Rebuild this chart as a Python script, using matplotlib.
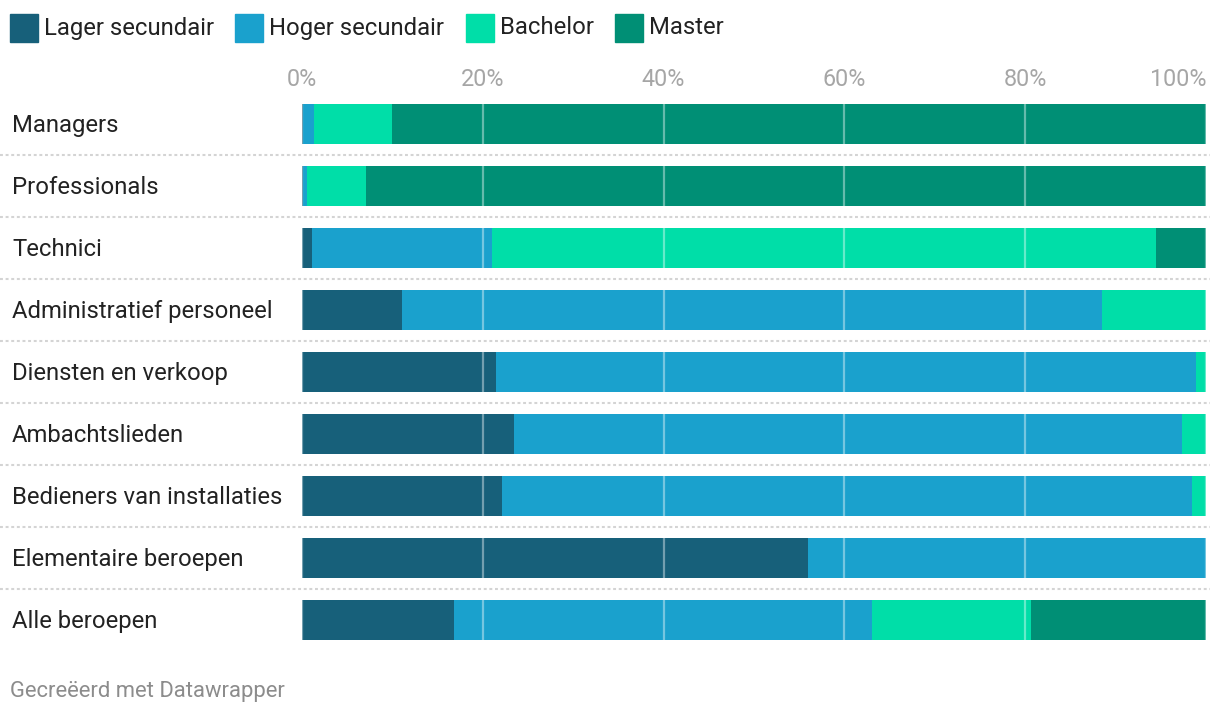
import numpy as np
import matplotlib
matplotlib.use("Agg")
import matplotlib.pyplot as plt
from matplotlib.patches import Rectangle
from matplotlib.lines import Line2D
import matplotlib.transforms as mtransforms

plt.rcParams['font.family'] = ['Roboto', 'DejaVu Sans']

categories = ["Managers", "Professionals", "Technici", "Administratief personeel",
              "Diensten en verkoop", "Ambachtslieden", "Bedieners van installaties",
              "Elementaire beroepen", "Alle beroepen"]
series_names = ["Lager secundair", "Hoger secundair", "Bachelor", "Master"]
lager = [0.1, 0.1, 1.1, 11.1, 21.5, 23.5, 22.1, 56.0, 16.8]
hoger = [1.2, 0.4, 19.9, 77.4, 77.4, 73.9, 76.4, 44.0, 46.3]
bachelor = [8.7, 6.6, 73.5, 11.5, 1.1, 2.6, 1.5, 0.0, 17.5]
master = [90.0, 92.9, 5.5, 0.0, 0.0, 0.0, 0.0, 0.0, 19.4]
colors = ["#17607a", "#1aa1cd", "#00dea8", "#008f75"]
ticks = [0, 20, 40, 60, 80, 100]

W, H = 1220, 718
fig = plt.figure(figsize=(W / 100, H / 100), dpi=100)
ax = fig.add_axes([302 / W, 1 - 651 / H, 904 / W, 558 / H])

y = np.arange(len(categories))
left = np.zeros(len(categories))
for vals, col in zip([lager, hoger, bachelor, master], colors):
    ax.barh(y, vals, left=left, height=40 / 62, color=col, zorder=1)
    left += np.array(vals)

for t in ticks:
    ax.axvline(t, color="white", alpha=0.4, lw=1.6, zorder=2, clip_on=False)

ax.set_xlim(0, 100)
ax.set_ylim(len(categories) - 0.5, -0.5)
ax.set_yticks([])
ax.set_xticks(ticks)
ax.set_xticklabels([f"{t}%" for t in ticks])
ax.xaxis.tick_top()
ax.tick_params(axis="x", length=0, pad=1.5, labelsize=16.8, labelcolor="#a6a6a6")
ax.get_xticklabels()[-1].set_horizontalalignment("right")
for s in ax.spines.values():
    s.set_visible(False)

# row labels and dotted separators
trans = mtransforms.blended_transform_factory(fig.transFigure, ax.transData)
for i, name in enumerate(categories):
    ax.text(12 / W, i + 0.02, name, transform=trans, ha="left", va="center",
            fontsize=17.2, color="#222222")
for i in range(len(categories) - 1):
    ln = Line2D([0, 1210 / W], [i + 0.5, i + 0.5], transform=trans,
                color="#d4d4d4", lw=1.5, dashes=(1.4, 1.3))
    ln.set_clip_on(False)
    fig.add_artist(ln)

# legend
leg_x = [10, 235, 466, 615]
for lx, name, col in zip(leg_x, series_names, colors):
    fig.add_artist(Rectangle((lx / W, 1 - 42 / H), 28 / W, 28 / H,
                             transform=fig.transFigure, color=col))
    fig.text((lx + 34) / W, 1 - 28 / H, name, ha="left", va="center",
             fontsize=17.2, color="#222222")

fig.text(10 / W, 1 - 692 / H, "Gecreëerd met Datawrapper", ha="left", va="center",
         fontsize=15.8, color="#8c8c8c")

fig.savefig("out.png", dpi=100, facecolor="white")
